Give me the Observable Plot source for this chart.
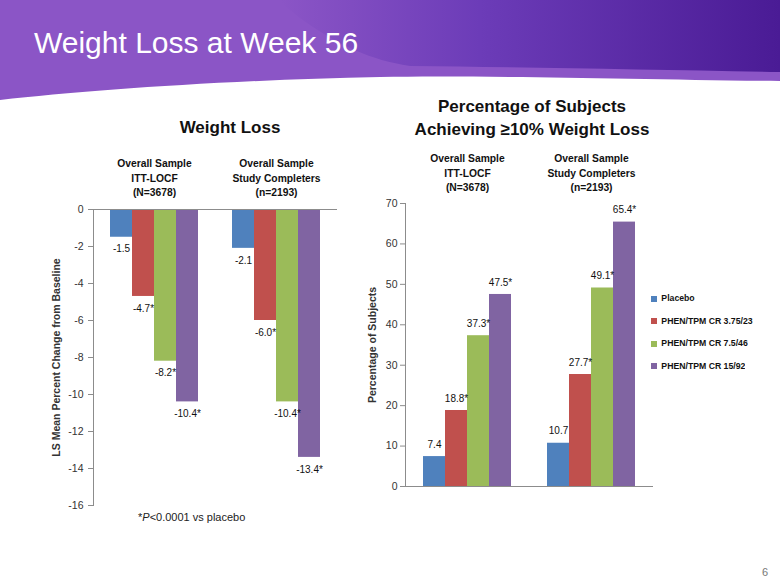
<!DOCTYPE html>
<html><head><meta charset="utf-8">
<script src="https://cdn.jsdelivr.net/npm/d3@7"></script>
<script src="https://cdn.jsdelivr.net/npm/@observablehq/plot@0.6"></script>
<style>
body{margin:0;background:#fff;}
#slide{position:relative;width:780px;height:585px;overflow:hidden;font-family:"Liberation Sans",Arial,sans-serif;background:#fff;}
.abs{position:absolute;}
#title{left:34px;top:27.5px;font-size:30px;line-height:30px;color:#fff;white-space:nowrap;}
.ctitle{font-weight:bold;font-size:17px;line-height:23px;color:#111;text-align:center;white-space:nowrap;transform:translateX(-50%);}
#foot{left:138px;top:509px;font-size:11px;line-height:16px;color:#222;white-space:nowrap;}
#page{left:762px;top:564px;font-size:11px;line-height:16px;color:#777;}
g[aria-label="y-axis label"] text{font-weight:bold;font-size:10.5px;}
.lg-swatch{margin:0 0 10.5px 0 !important;font-weight:bold;font-size:8.7px;line-height:11px;height:11px;}
.lg-swatches{margin:0 !important;min-height:0 !important;}
</style></head><body>
<div id="slide">
  <svg class="abs" style="left:0;top:0" width="780" height="110">
    <defs>
      <linearGradient id="dk" gradientUnits="userSpaceOnUse" x1="280" y1="0" x2="780" y2="0">
        <stop offset="0" stop-color="#8b55c6"/>
        <stop offset="0.4" stop-color="#6c3cb8"/>
        <stop offset="1" stop-color="#4a1b95"/>
      </linearGradient>
    </defs>
    <path d="M0,0 H780 V81 C620,79 470,75 380,77 C230,80 90,90 0,100 Z" fill="#8b55c6"/>
    <path d="M280,0 H780 V72 C660,70 520,67 410,66 C370,60 340,45 310,25 C295,15 285,6 280,0 Z" fill="url(#dk)"/>
  </svg>
  <div id="title" class="abs">Weight Loss at Week 56</div>
  <div class="abs ctitle" style="left:230px;top:115.5px;">Weight Loss</div>
  <div class="abs ctitle" style="left:532px;top:94.5px;">Percentage of Subjects<br>Achieving ≥10% Weight Loss</div>
  <div id="left" class="abs" style="left:0;top:140px;"></div>
  <div id="right" class="abs" style="left:355px;top:140px;"></div>
  <div id="legend" class="abs" style="left:651px;top:293px;"></div>
  <div id="foot" class="abs">*<i>P</i>&lt;0.0001 vs placebo</div>
  <div id="page" class="abs">6</div>
</div>
<script>
// ---- data ----
const groups = ["Overall Sample\nITT-LOCF\n(N=3678)", "Overall Sample\nStudy Completers\n(n=2193)"];
const series = ["Placebo", "PHEN/TPM CR 3.75/23", "PHEN/TPM CR 7.5/46", "PHEN/TPM CR 15/92"];
const colors = ["#4f81bd", "#c0504d", "#9bbb59", "#8064a2"];
const lossITT = [-1.5, -4.7, -8.2, -10.4];
const lossCompleters = [-2.1, -6.0, -10.4, -13.4];
const pctITT = [7.4, 18.8, 37.3, 47.5];
const pctCompleters = [10.7, 27.7, 49.1, 65.4];
const significant = [false, true, true, true];
const leftTicks = [0, -2, -4, -6, -8, -10, -12, -14, -16];
const rightTicks = [0, 10, 20, 30, 40, 50, 60, 70];

const toRows = (a, b) => series.flatMap((s, i) => [
  {group: groups[0], series: s, value: a[i], sig: significant[i]},
  {group: groups[1], series: s, value: b[i], sig: significant[i]}
]);
const leftData = toRows(lossITT, lossCompleters);
const rightData = toRows(pctITT, pctCompleters);
const fmt = d => d.value.toFixed(1) + (d.sig ? "*" : "");
const FONT = "'Liberation Sans',Arial,sans-serif";
const AX = "#8c8c8c";

function chart(data, opts) {
  return Plot.plot({
    width: opts.width, height: 390,
    marginLeft: opts.ml, marginRight: opts.mr, marginTop: opts.mt, marginBottom: opts.mb,
    style: {fontFamily: FONT, fontSize: "10.5px", color: "#222", background: "transparent", overflow: "visible"},
    fx: {domain: groups, padding: 0, label: null},
    x: {domain: series, paddingInner: 0, paddingOuter: 0.75, axis: null},
    y: {domain: opts.domain, label: null},
    color: {domain: series, range: colors},
    marks: [
      Plot.axisFx({anchor: "top", tickSize: 0, tickPadding: opts.hp, fontWeight: "bold", fontSize: 10.3, lineHeight: 1.36, label: null, fill: "#111"}),
      Plot.axisY({ticks: opts.ticks, tickFormat: d => String(d), tickSize: 5, tickPadding: opts.tp, stroke: AX, fill: "#333", fontSize: 10.5,
                  label: opts.label, labelArrow: "none", labelAnchor: "center", labelOffset: opts.lo}),
      Plot.frame({anchor: "left", facetAnchor: "left", stroke: AX}),
      Plot.barY(data, {fx: "group", x: "series", y: "value", fill: "series"}),
      Plot.ruleY([0], {stroke: AX}),
      Plot.text(data, {fx: "group", x: "series", y: "value", text: fmt, dy: opts.dy, fontSize: 10, fill: "#111"})
    ]
  });
}

document.getElementById("left").append(chart(leftData, {
  width: 360, ml: 93, mr: 23, mt: 69, mb: 25, hp: 14, tp: 5, lo: 41,
  domain: [-16, 0], ticks: leftTicks, dy: 12, label: "LS Mean Percent Change from Baseline"
}));
document.getElementById("right").append(chart(rightData, {
  width: 305, ml: 50, mr: 7, mt: 63, mb: 44, hp: 13, tp: 3, lo: 37,
  domain: [0, 70], ticks: rightTicks, dy: -12, label: "Percentage of Subjects"
}));
document.getElementById("legend").append(Plot.legend({
  color: {domain: series, range: colors}, legend: "swatches", columns: 1,
  swatchSize: 6, className: "lg", style: {fontFamily: FONT, color: "#111"}
}));
</script>
</body></html>
